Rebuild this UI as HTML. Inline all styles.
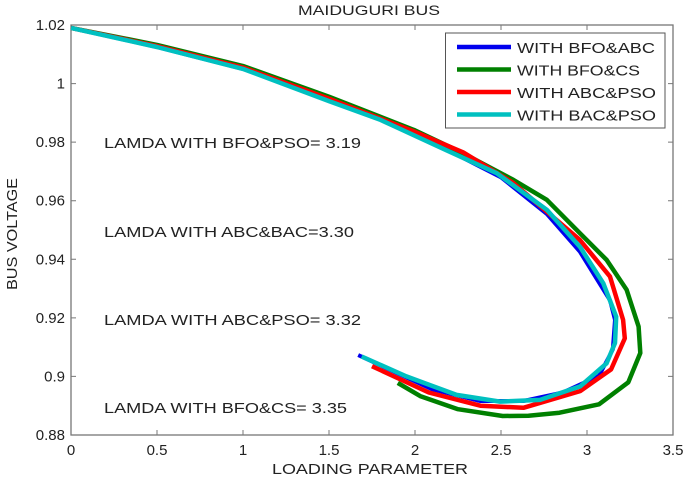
<!DOCTYPE html>
<html><head><meta charset="utf-8"><style>
body{margin:0;background:#fff}
svg text{font-family:"Liberation Sans",sans-serif;fill:#222}
</style></head><body>
<svg width="685" height="477" viewBox="0 0 685 477">
<rect width="685" height="477" fill="#fff"/>
<text x="298" y="15" font-size="14" textLength="142" lengthAdjust="spacingAndGlyphs">MAIDUGURI BUS</text>
<g id="axes"></g>
<g id="series"></g>
<text x="272" y="474" font-size="15" textLength="196" lengthAdjust="spacingAndGlyphs">LOADING PARAMETER</text>
<text transform="translate(17,290) rotate(-90)" font-size="15" textLength="112" lengthAdjust="spacingAndGlyphs">BUS VOLTAGE</text>
<g font-size="15">
<text x="104" y="148" textLength="257" lengthAdjust="spacingAndGlyphs">LAMDA WITH BFO&amp;PSO= 3.19</text>
<text x="104" y="237" textLength="250" lengthAdjust="spacingAndGlyphs">LAMDA WITH ABC&amp;BAC=3.30</text>
<text x="104" y="325" textLength="257" lengthAdjust="spacingAndGlyphs">LAMDA WITH ABC&amp;PSO= 3.32</text>
<text x="104" y="413" textLength="243" lengthAdjust="spacingAndGlyphs">LAMDA WITH BFO&amp;CS= 3.35</text>
</g>
<g id="legend"></g>
</svg>
<script>
const xTicks=[0,0.5,1,1.5,2,2.5,3,3.5];
const xTickLabels=["0","0.5","1","1.5","2","2.5","3","3.5"];
const yTicks=[0.88,0.9,0.92,0.94,0.96,0.98,1,1.02];
const yTickLabels=["0.88","0.9","0.92","0.94","0.96","0.98","1","1.02"];
const seriesNames=["WITH BFO&ABC","WITH BFO&CS","WITH ABC&PSO","WITH BAC&PSO"];
const seriesColors=["#0000ee","#008000","#ff0000","#00c0c0"];
const blueX=[0,0.5,1,1.5,1.87,2.2,2.5,2.766,2.959,3.134,3.163,3.15,3.07,2.86,2.63,2.38,2.1,1.67];
const blueY=[1.019,1.0125,1.005,0.9943,0.9867,0.977,0.968,0.9555,0.9426,0.926,0.9193,0.9092,0.9002,0.8945,0.8916,0.8916,0.8956,0.9073];
const greenX=[0,0.5,1,1.5,2,2.281,2.572,2.766,2.959,3.114,3.23,3.30,3.31,3.24,3.07,2.84,2.66,2.51,2.25,2.03,1.9];
const greenY=[1.019,1.0132,1.006,0.9955,0.984,0.9762,0.9671,0.9603,0.9489,0.9398,0.9296,0.917,0.908,0.898,0.8905,0.8876,0.8866,0.8865,0.8888,0.8933,0.8978];
const redX=[0,0.5,1,1.5,2,2.281,2.572,2.959,3.134,3.21,3.22,3.14,2.96,2.63,2.38,2.08,1.75];
const redY=[1.019,1.0128,1.0055,0.9948,0.9835,0.9765,0.966,0.9466,0.9341,0.9193,0.913,0.9024,0.895,0.8893,0.890,0.8945,0.9035];
const cyanX=[0,0.5,1,1.5,1.8,2.18,2.475,2.766,2.959,3.095,3.17,3.163,3.114,2.96,2.727,2.494,2.242,1.95,1.69];
const cyanY=[1.019,1.0125,1.005,0.994,0.9876,0.9773,0.9694,0.9569,0.9443,0.9318,0.9204,0.9114,0.9045,0.8966,0.892,0.8914,0.8937,0.900,0.9068];
const allX=[blueX,greenX,redX,cyanX], allY=[blueY,greenY,redY,cyanY];
const widths=[4,4.5,4.5,4.5];
const X0=71,X1=673,Y0=435,Y1=25;
const sx=v=>X0+(v-0)/(3.5-0)*(X1-X0);
const sy=v=>Y0-(v-0.88)/(1.02-0.88)*(Y0-Y1);
const NS="http://www.w3.org/2000/svg";
function mk(tag,attrs,parent){const e=document.createElementNS(NS,tag);for(const k in attrs)e.setAttribute(k,attrs[k]);parent.appendChild(e);return e;}
const axes=document.getElementById('axes');
const frame=mk('rect',{x:X0,y:Y1,width:X1-X0,height:Y0-Y1,fill:'none',stroke:'#777','stroke-width':1.3},axes);


xTicks.forEach((t,i)=>{const x=sx(t);
 const l=mk('path',{d:`M${x},${Y0}v-5M${x},${Y1}v5`,stroke:'#777'},axes);
 
 
 const tx=mk('text',{x:x,y:Y0+20,'font-size':15,'text-anchor':'middle'},axes);tx.textContent=xTickLabels[i];
 
 
});
yTicks.forEach((t,i)=>{const y=sy(t);
 const l=mk('path',{d:`M${X0},${y}h5M${X1},${y}h-5`,stroke:'#777'},axes);
 
 
 const tx=mk('text',{x:X0-6,y:y+5,'font-size':15,'text-anchor':'end'},axes);tx.textContent=yTickLabels[i];
 
 
});
const sg=document.getElementById('series');
allX.forEach((xs,s)=>{
 const d=xs.map((v,i)=>(i?'L':'M')+sx(v).toFixed(1)+','+sy(allY[s][i]).toFixed(1)).join('');
 const p=mk('path',{d:d,fill:'none',stroke:seriesColors[s],'stroke-width':widths[s],'stroke-linejoin':'round'},sg);
 
 
});
const lg=document.getElementById('legend');
const box=mk('rect',{x:445.5,y:33,width:219.5,height:95,fill:'#fff',stroke:'#555','stroke-width':1},lg);


const legendLens=[138,123,139,139];
seriesNames.forEach((n,i)=>{const y=47+i*22.5;
 const l=mk('line',{x1:457,x2:511,y1:y,y2:y,stroke:seriesColors[i],'stroke-width':4.5},lg);
 
 
 const t=mk('text',{x:517,y:y+6,'font-size':15,textLength:legendLens[i],lengthAdjust:'spacingAndGlyphs'},lg);t.textContent=n;
 
 
});
</script>
</body></html>
